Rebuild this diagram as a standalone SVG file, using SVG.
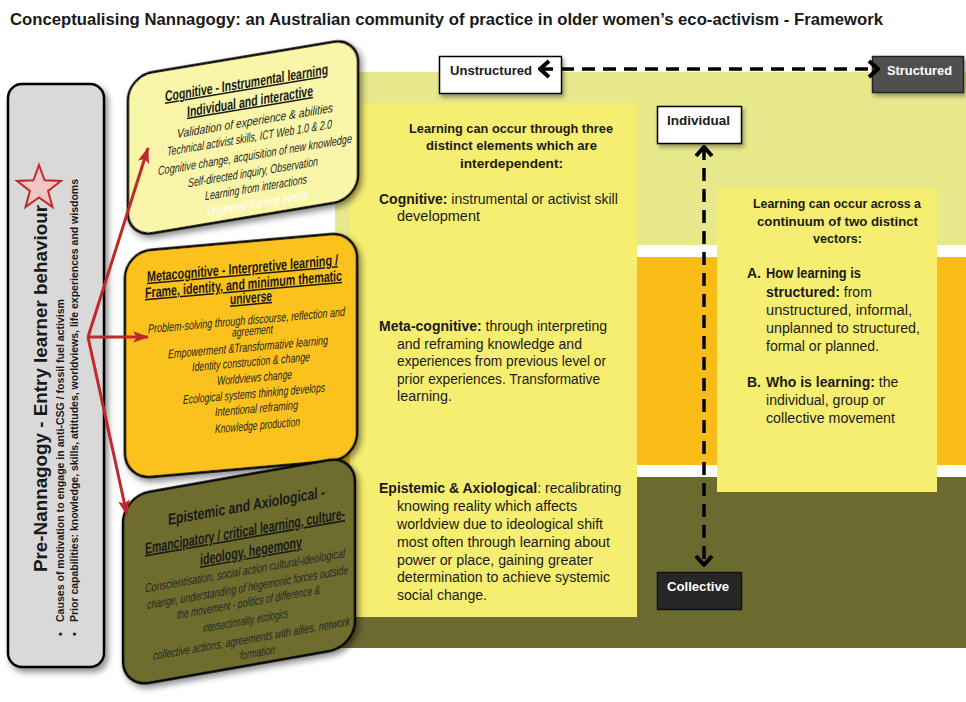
<svg xmlns="http://www.w3.org/2000/svg" width="966" height="702" viewBox="0 0 966 702">
<defs>
<style>
text{font-family:"Liberation Sans",Arial,sans-serif;fill:#1a1a1a}
.b{font-weight:bold}
.i{font-style:italic}
.u{text-decoration:underline}
.body{font-size:14px}
.hd{font-size:13.5px;font-weight:bold}
.lab{font-size:13px;font-weight:bold}
.bh{font-size:15px;font-weight:bold;text-decoration:underline}
.it{font-size:12.5px;font-style:italic;fill:#262626}
.edge{stroke:#000;stroke-width:2.5}
.red{stroke:#C0282D;stroke-width:3;fill:none}
.dash{stroke:#000;stroke-width:3.5;fill:none;stroke-dasharray:13 8}
</style>
<filter id="sh" x="-15%" y="-15%" width="135%" height="135%">
<feDropShadow dx="3" dy="4" stdDeviation="3" flood-color="#000" flood-opacity="0.45"/>
</filter>
<filter id="sh2" x="-15%" y="-15%" width="135%" height="140%">
<feDropShadow dx="2" dy="3" stdDeviation="2" flood-color="#000" flood-opacity="0.35"/>
</filter>
<marker id="ra" viewBox="0 0 14 10" refX="13" refY="5" markerWidth="16" markerHeight="12" orient="auto" markerUnits="userSpaceOnUse">
<path d="M0,0 L14,5 L0,10 L3,5 z" fill="#C0282D"/>
</marker>
<marker id="ch" viewBox="0 0 13 20" refX="11" refY="10" markerWidth="13" markerHeight="20" orient="auto-start-reverse" markerUnits="userSpaceOnUse">
<path d="M2,2 L11,10 L2,18" fill="none" stroke="#000" stroke-width="4"/>
</marker>
</defs>

<rect width="966" height="702" fill="#fff"/>

<text x="10" y="25" class="b" font-size="16.5" textLength="873" lengthAdjust="spacingAndGlyphs">Conceptualising Nannagogy: an Australian community of practice in older women’s eco-activism - Framework</text>

<g id="bands">
<rect x="335" y="72" width="631" height="173" fill="#E7E88C"/>
<rect x="335" y="257" width="631" height="208" fill="#F9BC16"/>
<rect x="335" y="477" width="631" height="171" fill="#6B6A2F"/>
</g>

<g id="elements-panel">
<rect x="350" y="103" width="287" height="514" fill="#F6EE70"/>
<text x="511" y="133" class="hd" text-anchor="middle" textLength="204" lengthAdjust="spacingAndGlyphs">Learning can occur through three</text>
<text x="511.5" y="150" class="hd" text-anchor="middle" textLength="171" lengthAdjust="spacingAndGlyphs">distinct elements which are</text>
<text x="511.5" y="168" class="hd" text-anchor="middle" textLength="103" lengthAdjust="spacingAndGlyphs">interdependent:</text>
<text x="379" y="204" class="body"><tspan class="b">Cognitive:</tspan> instrumental or activist skill</text>
<text x="397" y="221" class="body" textLength="83" lengthAdjust="spacingAndGlyphs">development</text>
<text x="379" y="331" class="body"><tspan class="b">Meta-cognitive:</tspan> through interpreting</text>
<text x="397" y="348.5" class="body" textLength="185" lengthAdjust="spacingAndGlyphs">and reframing knowledge and</text>
<text x="397" y="366" class="body" textLength="209" lengthAdjust="spacingAndGlyphs">experiences from previous level or</text>
<text x="397" y="383.5" class="body" textLength="203" lengthAdjust="spacingAndGlyphs">prior experiences. Transformative</text>
<text x="397" y="401" class="body" textLength="55" lengthAdjust="spacingAndGlyphs">learning.</text>
<text x="379" y="493" class="body" font-size="13.5"><tspan class="b">Epistemic &amp; Axiological</tspan>: recalibrating</text>
<text x="397" y="510.5" class="body" textLength="180" lengthAdjust="spacingAndGlyphs">knowing reality which affects</text>
<text x="397" y="528.5" class="body" textLength="206" lengthAdjust="spacingAndGlyphs">worldview due to ideological shift</text>
<text x="397" y="546.5" class="body" textLength="213" lengthAdjust="spacingAndGlyphs">most often through learning about</text>
<text x="397" y="564.5" class="body" textLength="196" lengthAdjust="spacingAndGlyphs">power or place, gaining greater</text>
<text x="397" y="582" class="body" textLength="213" lengthAdjust="spacingAndGlyphs">determination to achieve systemic</text>
<text x="397" y="600" class="body" textLength="90" lengthAdjust="spacingAndGlyphs">social change.</text>
</g>

<g id="vectors-panel">
<rect x="717" y="188" width="220" height="304" fill="#F6EE70"/>
<text x="837" y="208" class="hd" text-anchor="middle" textLength="168" lengthAdjust="spacingAndGlyphs">Learning can occur across a</text>
<text x="837.5" y="225.5" class="hd" text-anchor="middle" textLength="161" lengthAdjust="spacingAndGlyphs">continuum of two distinct</text>
<text x="837.5" y="243" class="hd" text-anchor="middle" textLength="49" lengthAdjust="spacingAndGlyphs">vectors:</text>
<text x="747" y="278" class="body b">A.</text>
<text x="766" y="278" class="body b" textLength="95" lengthAdjust="spacingAndGlyphs">How learning is</text>
<text x="766" y="296.5" class="body" font-size="13.5"><tspan class="b">structured:</tspan> from</text>
<text x="766" y="314.5" class="body" textLength="146" lengthAdjust="spacingAndGlyphs">unstructured, informal,</text>
<text x="766" y="332.5" class="body" textLength="154" lengthAdjust="spacingAndGlyphs">unplanned to structured,</text>
<text x="766" y="351" class="body" textLength="113" lengthAdjust="spacingAndGlyphs">formal or planned.</text>
<text x="747" y="387" class="body b">B.</text>
<text x="766" y="387" class="body" font-size="13.5"><tspan class="b">Who is learning:</tspan> the</text>
<text x="766" y="405" class="body" textLength="119" lengthAdjust="spacingAndGlyphs">individual, group or</text>
<text x="766" y="422.5" class="body" textLength="129" lengthAdjust="spacingAndGlyphs">collective movement</text>
</g>

<g id="unstructured">
<rect x="439.5" y="56.5" width="122" height="37" fill="#fff" stroke="#000" stroke-width="1.5" filter="url(#sh2)"/>
<text x="450" y="75" class="lab" textLength="82" lengthAdjust="spacingAndGlyphs">Unstructured</text>
</g>
<g id="structured">
<rect x="872.5" y="56.5" width="91" height="36" fill="#505050" stroke="#222" stroke-width="1.5" filter="url(#sh2)"/>
<text x="887" y="75" class="lab" style="fill:#fff" textLength="65" lengthAdjust="spacingAndGlyphs">Structured</text>
</g>
<g id="individual">
<rect x="657.5" y="106.5" width="84" height="37" fill="#fff" stroke="#000" stroke-width="1.5" filter="url(#sh2)"/>
<text x="667" y="125" class="lab" textLength="63" lengthAdjust="spacingAndGlyphs">Individual</text>
</g>
<g id="collective">
<rect x="657.5" y="572.5" width="84" height="37" fill="#262626" stroke="#111" stroke-width="1.5"/>
<text x="667" y="591" class="lab" style="fill:#fff" textLength="62" lengthAdjust="spacingAndGlyphs">Collective</text>
</g>

<g id="pre-nannagogy">
<rect x="8" y="84" width="96" height="583" rx="14" fill="#D9D9D9" class="edge" filter="url(#sh)"/>
<polygon points="39,165 44.6,180.3 61,181 48.1,191 52.5,207 39,197.5 25.5,207 29.9,191 17,181 33.4,180.3" fill="#F2C4C6" stroke="#C0282D" stroke-width="2"/>
<text transform="translate(47,572) rotate(-90)" class="b" font-size="19" textLength="367" lengthAdjust="spacingAndGlyphs">Pre-Nannagogy - Entry learner behaviour</text>
<text transform="translate(64,636) rotate(-90)" class="b" font-size="11">•</text>
<text transform="translate(64,622) rotate(-90)" class="b" font-size="10.5" textLength="323" lengthAdjust="spacingAndGlyphs">Causes of motivation to engage in anti-CSG / fossil fuel activism</text>
<text transform="translate(78,636) rotate(-90)" class="b" font-size="11">•</text>
<text transform="translate(78,622) rotate(-90)" class="b" font-size="10.5" textLength="443" lengthAdjust="spacingAndGlyphs">Prior capabilities: knowledge, skills, attitudes, worldviews, life experiences and wisdoms</text>
</g>

<g id="cognitive" transform="translate(243,137.5) skewY(-9.5)">
<rect x="-115" y="-80.5" width="230" height="161" rx="24" fill="#F9F5A9" class="edge" filter="url(#sh)"/>
<text x="3.5" y="-49" class="bh" text-anchor="middle" textLength="163" lengthAdjust="spacingAndGlyphs">Cognitive - Instrumental learning</text>
<text x="7" y="-30" class="bh" text-anchor="middle" textLength="126" lengthAdjust="spacingAndGlyphs">Individual and interactive</text>
<text x="12" y="-10.5" class="it" text-anchor="middle" textLength="156" lengthAdjust="spacingAndGlyphs">Validation of experience &amp; abilities</text>
<text x="6.5" y="5.5" class="it" text-anchor="middle" textLength="165" lengthAdjust="spacingAndGlyphs">Technical activist  skills, ICT Web 1.0 &amp; 2.0</text>
<text x="12" y="23.5" class="it" text-anchor="middle" textLength="194" lengthAdjust="spacingAndGlyphs">Cognitive change, acquisition of new knowledge</text>
<text x="10" y="40.5" class="it" text-anchor="middle" textLength="130" lengthAdjust="spacingAndGlyphs">Self-directed  inquiry, Observation</text>
<text x="13" y="56.5" class="it" text-anchor="middle" textLength="102" lengthAdjust="spacingAndGlyphs">Learning from interactions</text>
<text x="14.5" y="72.5" class="it" text-anchor="middle" style="fill:#fff" textLength="101" lengthAdjust="spacingAndGlyphs">Organised learning events</text>
</g>

<g id="metacognitive" transform="translate(241,355.5) skewY(-5)">
<rect x="-116" y="-113.5" width="232" height="227" rx="26" fill="#FBC11D" class="edge" filter="url(#sh)"/>
<text x="1.5" y="-82" class="bh" text-anchor="middle" textLength="191" lengthAdjust="spacingAndGlyphs">Metacognitive - Interpretive learning /</text>
<text x="2.5" y="-66" class="bh" text-anchor="middle" textLength="197" lengthAdjust="spacingAndGlyphs">Frame, identity, and minimum thematic</text>
<text x="10" y="-52" class="bh" text-anchor="middle" textLength="42" lengthAdjust="spacingAndGlyphs">universe</text>
<text x="5.5" y="-30.5" class="it" text-anchor="middle" textLength="197" lengthAdjust="spacingAndGlyphs">Problem-solving through discourse, reflection and</text>
<text x="11.5" y="-19.5" class="it" text-anchor="middle" textLength="41" lengthAdjust="spacingAndGlyphs">agreement</text>
<text x="7" y="-3.5" class="it" text-anchor="middle" textLength="160" lengthAdjust="spacingAndGlyphs">Empowerment  &amp;Transformative  learning</text>
<text x="10" y="11.5" class="it" text-anchor="middle" textLength="118" lengthAdjust="spacingAndGlyphs">Identity construction  &amp; change</text>
<text x="13.5" y="27.5" class="it" text-anchor="middle" textLength="75" lengthAdjust="spacingAndGlyphs">Worldviews change</text>
<text x="13" y="43.5" class="it" text-anchor="middle" textLength="142" lengthAdjust="spacingAndGlyphs">Ecological systems  thinking develops</text>
<text x="15.5" y="58.5" class="it" text-anchor="middle" textLength="83" lengthAdjust="spacingAndGlyphs">Intentional reframing</text>
<text x="16.5" y="75.5" class="it" text-anchor="middle" textLength="85" lengthAdjust="spacingAndGlyphs">Knowledge production</text>
</g>

<g id="epistemic" transform="translate(239,571.5) skewY(-10)">
<rect x="-116" y="-95.5" width="232" height="191" rx="26" fill="#6E6D2F" class="edge" filter="url(#sh)"/>
<text x="7.5" y="-59" class="b" font-size="16" text-anchor="middle" textLength="157" lengthAdjust="spacingAndGlyphs">Epistemic and Axiological -</text>
<text x="6" y="-34" class="b u" font-size="16" text-anchor="middle" textLength="200" lengthAdjust="spacingAndGlyphs">Emancipatory / critical learning, culture-</text>
<text x="12" y="-13" class="b u" font-size="16" text-anchor="middle" textLength="102" lengthAdjust="spacingAndGlyphs">ideology, hegemony</text>
<text x="6" y="4.5" class="it" text-anchor="middle" textLength="200" lengthAdjust="spacingAndGlyphs">Conscientisation, social action cultural-ideological</text>
<text x="8.5" y="21.5" class="it" text-anchor="middle" textLength="201" lengthAdjust="spacingAndGlyphs">change, understanding of hegemonic forces outside</text>
<text x="9.5" y="36.5" class="it" text-anchor="middle" textLength="143" lengthAdjust="spacingAndGlyphs">the movement - politics of difference &amp;</text>
<text x="6.5" y="54.5" class="it" text-anchor="middle" textLength="85" lengthAdjust="spacingAndGlyphs">intersectionality, ecologics</text>
<text x="12.5" y="73.5" class="it" text-anchor="middle" textLength="197" lengthAdjust="spacingAndGlyphs">collective actions, agreements with allies, network</text>
<text x="18.5" y="88.5" class="it" text-anchor="middle" textLength="35" lengthAdjust="spacingAndGlyphs">formation</text>
</g>

<g id="connectors">
<line x1="88" y1="337" x2="148" y2="148" class="red" marker-end="url(#ra)"/>
<line x1="88" y1="337" x2="148" y2="337" class="red" marker-end="url(#ra)"/>
<line x1="88" y1="337" x2="127" y2="515" class="red" marker-end="url(#ra)"/>
<line x1="540" y1="69" x2="878" y2="69" class="dash" marker-start="url(#ch)" marker-end="url(#ch)"/>
<line x1="704" y1="147" x2="704" y2="565" class="dash" marker-start="url(#ch)" marker-end="url(#ch)"/>
</g>
</svg>
